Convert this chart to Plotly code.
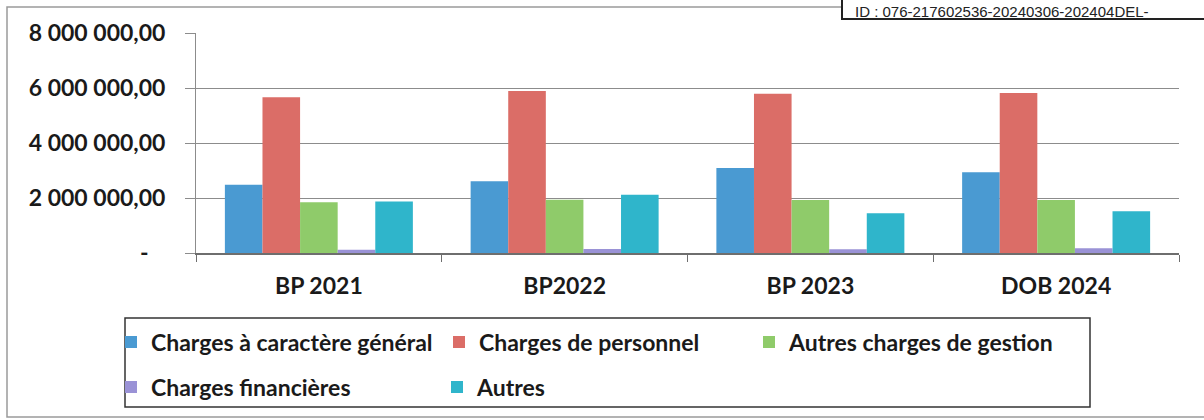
import plotly.graph_objects as go

# budget lines
years = ["BP 2021", "BP2022", "BP 2023", "DOB 2024"]
series_names = [
    "Charges à caractère général",
    "Charges de personnel",
    "Autres charges de gestion",
    "Charges financières",
    "Autres",
]
charges_generales = [2480000, 2610000, 3090000, 2940000]
charges_personnel = [5660000, 5890000, 5790000, 5820000]
autres_gestion = [1850000, 1940000, 1930000, 1930000]
charges_financieres = [120000, 150000, 140000, 170000]
autres = [1870000, 2120000, 1450000, 1520000]

y_ticks = [0, 2000000, 4000000, 6000000, 8000000]
y_ticktext = ["-\u00a0\u00a0\u00a0", "2 000 000,00", "4 000 000,00", "6 000 000,00", "8 000 000,00"]

colors = ["#4A9AD2", "#DB6D67", "#8FCB6A", "#9A92D6", "#2FB5CB"]
values = [charges_generales, charges_personnel, autres_gestion, charges_financieres, autres]

W, H = 1204, 420
FONT = "Lato"
FSIZE = 23

fig = go.Figure()
for i, (name, vals) in enumerate(zip(series_names, values)):
    fig.add_trace(
        go.Bar(
            x=years,
            y=vals,
            name=name,
            marker_color=colors[i],
            marker_line_width=0,
            legend="legend" if i == 0 else f"legend{i + 1}",
        )
    )

# legend positions in pixels (left of item, centre y)
legend_pos = [(111, 342), (439, 342), (749, 342), (111, 387), (437, 387)]
legends = {}
for i, (px, py) in enumerate(legend_pos):
    key = "legend" if i == 0 else f"legend{i + 1}"
    legends[key] = dict(
        xref="container",
        yref="container",
        x=px / W,
        y=1 - py / H,
        xanchor="left",
        yanchor="middle",
        bgcolor="rgba(0,0,0,0)",
        borderwidth=0,
        font=dict(family=FONT, size=FSIZE, color="#1a1a1a", weight="bold"),
        itemclick=False,
    )

# plot area in pixels
x0, x1, ytop, ybot = 196, 1179, 33, 253


def px_x(p):
    return (p - x0) / (x1 - x0)


def px_y(p):
    return (ybot - p) / (ybot - ytop)


shapes = [
    # outer chart frame
    dict(type="rect", xref="paper", yref="paper",
         x0=px_x(7), x1=px_x(1215), y0=px_y(417), y1=px_y(7),
         line=dict(color="#9a9a9a", width=1.5), layer="below"),
    # legend frame
    dict(type="rect", xref="paper", yref="paper",
         x0=px_x(125), x1=px_x(1090), y0=px_y(407), y1=px_y(318),
         line=dict(color="#333333", width=1.5)),
    # stamp box
    dict(type="rect", xref="paper", yref="paper",
         x0=px_x(842), x1=px_x(1215), y0=px_y(19), y1=px_y(-10),
         line=dict(color="#222222", width=2), fillcolor="white"),
]

fig.update_layout(
    width=W,
    height=H,
    margin=dict(l=x0, r=W - x1, t=ytop, b=H - ybot, autoexpand=False),
    paper_bgcolor="white",
    plot_bgcolor="white",
    showlegend=True,
    barmode="group",
    bargap=0.235,
    bargroupgap=0,
    font=dict(family=FONT, color="#1a1a1a"),
    shapes=shapes,
    annotations=[
        dict(text="ID : 076-217602536-20240306-202404DEL-", xref="paper", yref="paper",
             x=px_x(853), y=px_y(1), xanchor="left", yanchor="top",
             showarrow=False, font=dict(family="Liberation Sans", size=15, color="#222222")),
    ],
    **legends,
)

fig.update_yaxes(
    range=[0, 8000000],
    tickvals=y_ticks,
    ticktext=y_ticktext,
    tickfont=dict(family=FONT, size=FSIZE, color="#1a1a1a", weight="bold"),
    showgrid=True,
    gridcolor="#8c8c8c",
    gridwidth=1,
    showline=True,
    linecolor="#8c8c8c",
    linewidth=1,
    ticks="outside",
    ticklen=10,
    tickcolor="#8c8c8c",
    ticklabelstandoff=15,
    zeroline=False,
    automargin=False,
)
fig.update_xaxes(
    type="category",
    tickfont=dict(family=FONT, size=FSIZE, color="#1a1a1a", weight="bold"),
    showline=True,
    linecolor="#6e6e6e",
    linewidth=1.5,
    ticks="outside",
    tickson="boundaries",
    ticklen=7,
    tickcolor="#6e6e6e",
    ticklabelstandoff=12,
    automargin=False,
)

fig.write_html(
    "out.html",
    config={"displayModeBar": False},
    post_script="document.body.style.margin='0';",
)
